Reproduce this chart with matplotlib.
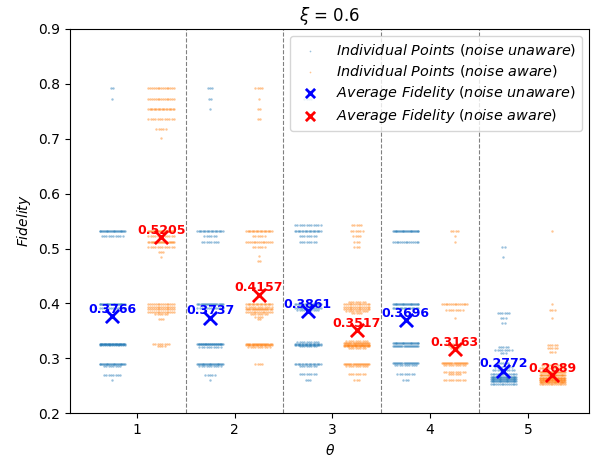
import numpy as np
import matplotlib
matplotlib.use("Agg")
import matplotlib.pyplot as plt

thetas = [1, 2, 3, 4, 5]

# Fidelity levels (y values) and how many runs landed on each, per theta
unaware_levels = [
    [0.792, 0.7725, 0.5326, 0.523, 0.3985, 0.391, 0.326, 0.3235, 0.2893, 0.287, 0.2703, 0.2607],
    [0.792, 0.7725, 0.7535, 0.5326, 0.523, 0.5126, 0.3985, 0.391, 0.326, 0.3215, 0.2893, 0.287, 0.2703, 0.2607],
    [0.7725, 0.543, 0.5326, 0.523, 0.5126, 0.3985, 0.392, 0.388, 0.330, 0.327, 0.324, 0.322, 0.2893, 0.287, 0.271, 0.2607],
    [0.5326, 0.5126, 0.3985, 0.392, 0.3275, 0.3226, 0.291, 0.2885, 0.271, 0.2607],
    [0.5035, 0.4853, 0.382, 0.373, 0.364, 0.320, 0.3153, 0.309, 0.292, 0.285, 0.279, 0.272, 0.266, 0.262, 0.258, 0.254],
]
unaware_counts = [
    [2, 1, 30, 10, 30, 12, 45, 15, 30, 8, 8, 1],
    [3, 2, 1, 20, 6, 8, 25, 12, 40, 10, 30, 10, 5, 1],
    [4, 12, 20, 8, 8, 20, 15, 10, 10, 20, 20, 8, 20, 8, 8, 3],
    [30, 15, 30, 20, 30, 25, 25, 10, 8, 3],
    [2, 1, 6, 3, 2, 5, 8, 3, 5, 8, 10, 15, 30, 30, 30, 15],
]

aware_levels = [
    [0.792, 0.7725, 0.7535, 0.7355, 0.7178, 0.7015, 0.5326, 0.523, 0.5126, 0.5035, 0.494, 0.4853,
     0.3985, 0.394, 0.390, 0.385, 0.381, 0.372, 0.326, 0.323],
    [0.792, 0.7725, 0.7535, 0.7355, 0.5326, 0.523, 0.5126, 0.5035, 0.4865, 0.4774,
     0.3985, 0.394, 0.390, 0.385, 0.381, 0.375, 0.3718, 0.326, 0.3235, 0.320, 0.2893],
    [0.543, 0.5326, 0.523, 0.5126, 0.5035, 0.4033, 0.3985, 0.394, 0.390, 0.386, 0.382,
     0.331, 0.328, 0.325, 0.322, 0.318, 0.2893, 0.287, 0.271, 0.2607],
    [0.5326, 0.523, 0.5126, 0.3985, 0.389, 0.373, 0.326, 0.322, 0.319, 0.291, 0.288, 0.276, 0.272, 0.2607],
    [0.5326, 0.3985, 0.389, 0.373, 0.3244, 0.3184, 0.312, 0.288, 0.282, 0.276, 0.270, 0.265, 0.261, 0.257, 0.2535],
]
aware_counts = [
    [15, 15, 20, 12, 5, 1, 30, 12, 25, 12, 3, 1, 15, 15, 15, 15, 6, 3, 8, 4],
    [4, 1, 2, 2, 20, 6, 15, 6, 1, 2, 20, 12, 25, 15, 8, 4, 2, 25, 20, 10, 4],
    [5, 6, 4, 3, 3, 8, 15, 15, 15, 10, 5, 10, 25, 30, 20, 8, 25, 10, 8, 3],
    [4, 1, 1, 15, 8, 1, 8, 6, 4, 25, 10, 10, 6, 10],
    [1, 1, 3, 1, 5, 5, 3, 10, 15, 25, 30, 35, 35, 30, 15],
]

avg_unaware = [0.3766, 0.3737, 0.3861, 0.3696, 0.2772]
avg_aware = [0.5205, 0.4157, 0.3517, 0.3163, 0.2689]

fig = plt.figure(figsize=(5.92, 4.59), dpi=100)
ax = fig.add_axes([0.1182, 0.0996, 0.8772, 0.8373])

def spread(center, levels, counts):
    xs, ys = [], []
    for lv, n in zip(levels, counts):
        hw = min(0.13, 0.012 * (n - 1))
        xs.extend(np.linspace(center - hw, center + hw, n) if n > 1 else [center])
        ys.extend([lv] * n)
    return np.array(xs), np.array(ys)

for i, t in enumerate(thetas):
    xb, yb = spread(t - 0.25, unaware_levels[i], unaware_counts[i])
    xo, yo = spread(t + 0.25, aware_levels[i], aware_counts[i])
    ax.scatter(xb, yb, s=3, color="#1f77b4", alpha=0.45, linewidths=0,
               label=r"$Individual\ Points\ (noise\ unaware)$" if i == 0 else None)
    ax.scatter(xo, yo, s=3, color="#ff7f0e", alpha=0.45, linewidths=0,
               label=r"$Individual\ Points\ (noise\ aware)$" if i == 0 else None)

xb = np.array(thetas) - 0.25
xo = np.array(thetas) + 0.25
ax.scatter(xb, avg_unaware, marker="x", s=90, color="blue", linewidths=2, zorder=5,
           label=r"$Average\ Fidelity\ (noise\ unaware)$")
ax.scatter(xo, avg_aware, marker="x", s=90, color="red", linewidths=2, zorder=5,
           label=r"$Average\ Fidelity\ (noise\ aware)$")
for x, v in zip(xb, avg_unaware):
    ax.annotate(f"{v:.4f}", (x, v), xytext=(0, 5), textcoords="offset points",
                ha="center", va="center", color="blue", fontsize=9, fontweight="bold", zorder=6)
for x, v in zip(xo, avg_aware):
    ax.annotate(f"{v:.4f}", (x, v), xytext=(0, 5), textcoords="offset points",
                ha="center", va="center", color="red", fontsize=9, fontweight="bold", zorder=6)

for b in [1.5, 2.5, 3.5, 4.5]:
    ax.axvline(b, color="gray", linestyle="--", linewidth=0.8)

ax.set_xlim(0.318, 5.627)
ax.set_ylim(0.2, 0.9)
ax.set_xticks(thetas)
ax.set_yticks([0.2, 0.3, 0.4, 0.5, 0.6, 0.7, 0.8, 0.9])
ax.set_xlabel(r"$\theta$")
ax.set_ylabel(r"$Fidelity$")
ax.set_title(r"$\xi$ = 0.6")
ax.legend(loc="upper right", fontsize=10.4, labelspacing=0.35, markerscale=0.7)

fig.savefig("out.png", dpi=100)
